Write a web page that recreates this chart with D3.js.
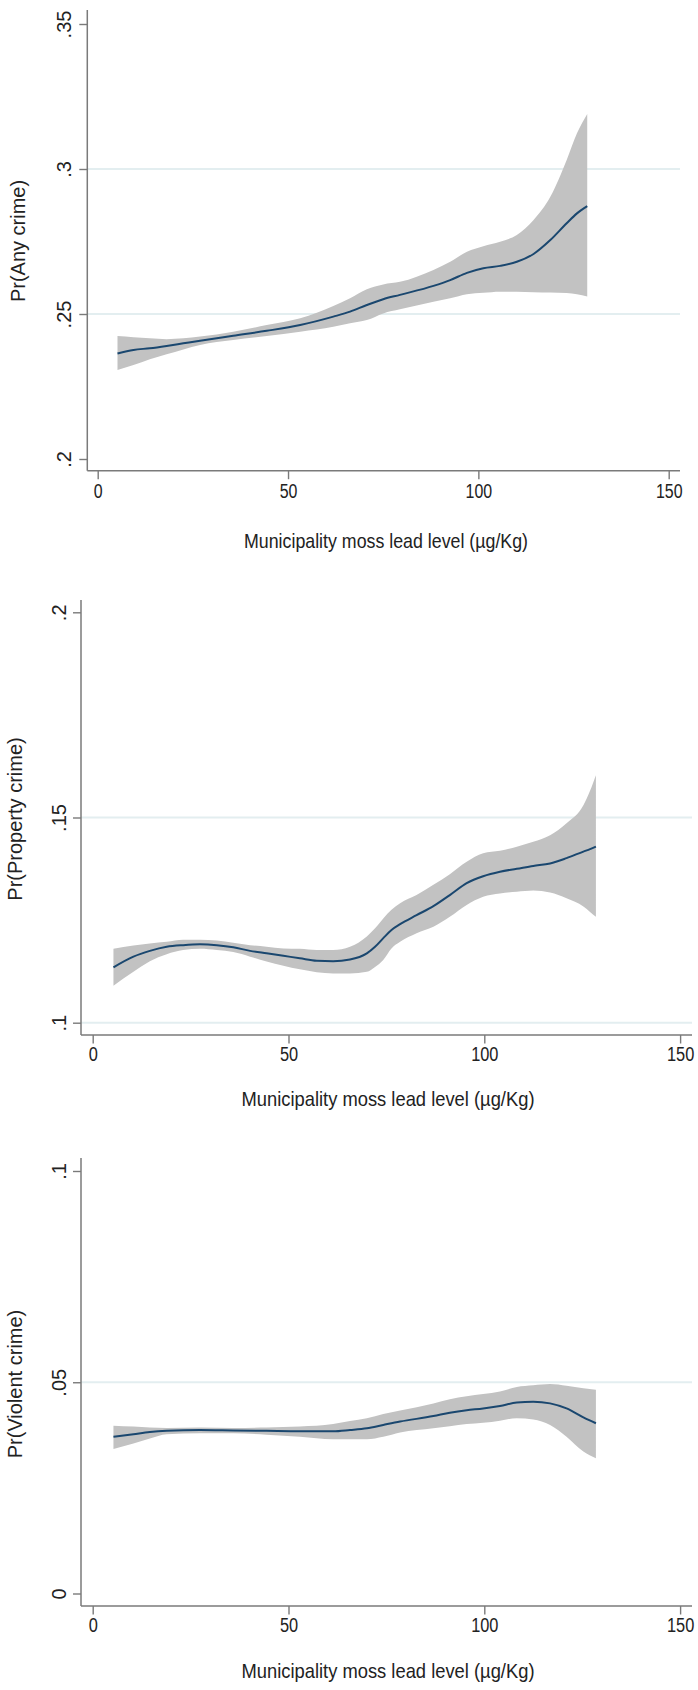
<!DOCTYPE html>
<html>
<head>
<meta charset="utf-8">
<script src="https://cdn.jsdelivr.net/npm/d3@7"></script>
<style>
  html, body { margin: 0; padding: 0; background: #fff; }
  svg text { font-family: "Liberation Sans", Arial, sans-serif; fill: #222; }
</style>
</head>
<body>
<svg id="chart" width="698" height="1690"></svg>
<script>
// ---------- DATA ----------
const xTicks = [0, 50, 100, 150];
const xTitle = "Municipality moss lead level (\u00b5g/Kg)";

// Panel 1: Pr(Any crime)
const anyTitle = "Pr(Any crime)";
const anyYTicks = [0.2, 0.25, 0.3, 0.35];
const anyGrid = [0.25, 0.3];
const anyX   = [5.2, 9.4, 13.7, 18.1, 22.5, 26.9, 35.6, 44.4, 53.2, 61.9, 66.3, 70.7, 75.0, 79.4, 88.2, 92.6, 97.0, 101.3, 105.7, 110.1, 114.5, 118.9, 123.2, 125.9, 128.6];
const anyFit = [.2364, .2376, .2382, .2390, .2399, .2408, .2425, .2442, .2462, .2491, .2508, .2531, .2551, .2566, .2597, .2617, .2642, .2658, .2666, .2680, .2707, .2755, .2813, .2847, .2872];
const anyLo  = [.2307, .2324, .2344, .2361, .2378, .2393, .2410, .2424, .2439, .2456, .2468, .2479, .2502, .2516, .2542, .2554, .2568, .2573, .2577, .2577, .2575, .2574, .2572, .2568, .2560];
const anyHi  = [.2424, .2420, .2416, .2413, .2416, .2422, .2439, .2462, .2485, .2528, .2554, .2585, .2602, .2611, .2652, .2680, .2715, .2734, .2749, .2772, .2824, .2904, .3031, .3123, .3190];

// Panel 2: Pr(Property crime)
const propTitle = "Pr(Property crime)";
const propYTicks = [0.1, 0.15, 0.2];
const propGrid = [0.1, 0.15];
const propX   = [5.3, 10.4, 14.6, 18.9, 23.1, 27.4, 31.7, 35.9, 40.2, 44.4, 48.7, 52.9, 57.2, 61.4, 65.7, 70.0, 72.1, 74.2, 76.3, 78.5, 82.7, 87.0, 91.2, 95.5, 99.7, 104.0, 108.3, 112.5, 116.8, 121.0, 125.3, 127.0, 128.5];
const propFit = [.1135, .1161, .1175, .1185, .1189, .1191, .1189, .1184, .1175, .1169, .1163, .1157, .1151, .1150, .1154, .1169, .1185, .1206, .1226, .1240, .1262, .1284, .1311, .1340, .1357, .1368, .1375, .1382, .1388, .1401, .1417, .1423, .1429];
const propLo  = [.1090, .1124, .1150, .1167, .1177, .1180, .1177, .1172, .1161, .1149, .1139, .1130, .1123, .1120, .1120, .1124, .1136, .1153, .1181, .1197, .1218, .1234, .1258, .1287, .1307, .1315, .1319, .1322, .1317, .1303, .1283, .1270, .1258];
const propHi  = [.1180, .1188, .1193, .1197, .1202, .1202, .1200, .1195, .1189, .1185, .1181, .1180, .1177, .1177, .1185, .1210, .1230, .1254, .1275, .1291, .1311, .1336, .1362, .1392, .1413, .1419, .1429, .1441, .1457, .1486, .1530, .1565, .1603];

// Panel 3: Pr(Violent crime)
const violTitle = "Pr(Violent crime)";
const violYTicks = [0, 0.05, 0.1];
const violGrid = [0.05];
const violX   = [5.3, 10.4, 14.6, 18.9, 27.4, 35.9, 44.4, 52.9, 61.4, 65.7, 70.0, 74.2, 78.5, 87.0, 91.2, 95.5, 99.7, 104.0, 108.3, 112.5, 116.8, 121.0, 125.3, 128.5];
const violFit = [.0371, .0377, .0382, .0385, .0387, .0386, .0385, .0384, .0384, .0387, .0391, .0399, .0407, .0420, .0428, .0434, .0438, .0444, .0452, .0454, .0450, .0438, .0417, .0403];
const violLo  = [.0342, .0355, .0367, .0377, .0379, .0379, .0376, .0371, .0365, .0365, .0365, .0371, .0381, .0391, .0396, .0401, .0404, .0409, .0415, .0412, .0399, .0371, .0336, .0320];
const violHi  = [.0397, .0395, .0393, .0392, .0393, .0392, .0393, .0395, .0401, .0408, .0415, .0425, .0433, .0450, .0460, .0467, .0472, .0478, .0489, .0493, .0496, .0492, .0486, .0482];

// ---------- LAYOUT ----------
const panels = [
  { title: anyTitle, yTicks: anyYTicks, grid: anyGrid, xs: anyX, fit: anyFit, lo: anyLo, hi: anyHi,
    yDomain: [0.2, 0.35], yRange: [459, 24], xRange: [97.7, 668.7],
    axisX: 87.3, axisY: 470.7, top: 10, right: 680,
    yLabGap: 16.6, xLabOff: 27.6, titleX: 24.5, titleY: 241,
    xTitleX: 386, xTitleY: 548, xTitleW: 284, xScaleText: 0.76 },
  { title: propTitle, yTicks: propYTicks, grid: propGrid, xs: propX, fit: propFit, lo: propLo, hi: propHi,
    yDomain: [0.1, 0.2], yRange: [1022.7, 612.3], xRange: [92.7, 680.1],
    axisX: 81, axisY: 1035, top: 600, right: 692,
    yLabGap: 15, xLabOff: 25.7, titleX: 21.5, titleY: 819,
    xTitleX: 388, xTitleY: 1106, xTitleW: 293, xScaleText: 0.78 },
  { title: violTitle, yTicks: violYTicks, grid: violGrid, xs: violX, fit: violFit, lo: violLo, hi: violHi,
    yDomain: [0, 0.1], yRange: [1593.5, 1171], xRange: [92.7, 680.1],
    axisX: 81, axisY: 1606, top: 1158, right: 692,
    yLabGap: 15, xLabOff: 26.3, titleX: 21.5, titleY: 1384,
    xTitleX: 388, xTitleY: 1678, xTitleW: 293, xScaleText: 0.78 }
];

const svg = d3.select("#chart");
const axisColor = "#7a7a7a";
const fmt = v => (v === 0 ? "0" : d3.format("~g")(v).replace(/^0\./, "."));

panels.forEach(p => {
  const x = d3.scaleLinear().domain([0, 150]).range(p.xRange);
  const y = d3.scaleLinear().domain(p.yDomain).range(p.yRange);
  const g = svg.append("g");

  // gridlines
  g.selectAll("line.grid").data(p.grid).join("line")
    .attr("class", "grid")
    .attr("x1", p.axisX).attr("x2", p.right)
    .attr("y1", d => y(d)).attr("y2", d => y(d))
    .attr("stroke", "#e3eef0").attr("stroke-width", 2);

  // data
  const rows = p.xs.map((xv, i) => ({ x: xv, f: p.fit[i], lo: p.lo[i], hi: p.hi[i] }));
  const area = d3.area().x(d => x(d.x)).y0(d => y(d.lo)).y1(d => y(d.hi)).curve(d3.curveMonotoneX);
  const line = d3.line().x(d => x(d.x)).y(d => y(d.f)).curve(d3.curveMonotoneX);
  g.append("path").datum(rows).attr("d", area).attr("fill", "#c2c2c2").attr("stroke", "none");
  g.append("path").datum(rows).attr("d", line).attr("fill", "none")
    .attr("stroke", "#1a476f").attr("stroke-width", 2);

  // y axis
  const yAx = g.append("g").attr("transform", `translate(${p.axisX},0)`)
    .call(d3.axisLeft(y).tickValues(p.yTicks).tickSize(8).tickSizeOuter(0).tickFormat(fmt));
  yAx.select(".domain").remove();
  yAx.selectAll(".tick line").attr("stroke", axisColor).attr("stroke-width", 1.4);
  yAx.selectAll(".tick text")
    .attr("x", null).attr("dy", null)
    .attr("text-anchor", "middle")
    .attr("transform", `translate(${-p.yLabGap},0) rotate(-90)`)
    .style("font-size", "20px").style("fill", "#222");

  // x axis
  const xAx = g.append("g").attr("transform", `translate(0,${p.axisY})`)
    .call(d3.axisBottom(x).tickValues(xTicks).tickSize(8.5).tickSizeOuter(0).tickFormat(d3.format("d")));
  xAx.select(".domain").remove();
  xAx.selectAll(".tick line").attr("stroke", axisColor).attr("stroke-width", 1.4);
  xAx.selectAll(".tick text")
    .attr("y", null).attr("dy", null)
    .attr("text-anchor", "middle")
    .attr("transform", `translate(0,${p.xLabOff}) scale(${p.xScaleText},1)`)
    .style("font-size", "21px").style("fill", "#222");

  // axis lines
  g.append("line").attr("x1", p.axisX).attr("x2", p.axisX).attr("y1", p.top).attr("y2", p.axisY)
    .attr("stroke", axisColor).attr("stroke-width", 1.5);
  g.append("line").attr("x1", p.axisX).attr("x2", p.right).attr("y1", p.axisY).attr("y2", p.axisY)
    .attr("stroke", axisColor).attr("stroke-width", 1.5);

  // titles
  g.append("text").text(p.title)
    .attr("text-anchor", "middle")
    .attr("transform", `translate(${p.titleX},${p.titleY}) rotate(-90)`)
    .style("font-size", "20px");
  g.append("text").text(xTitle)
    .attr("x", p.xTitleX).attr("y", p.xTitleY)
    .attr("text-anchor", "middle")
    .attr("textLength", p.xTitleW).attr("lengthAdjust", "spacingAndGlyphs")
    .style("font-size", "21px");
});
</script>
</body>
</html>
